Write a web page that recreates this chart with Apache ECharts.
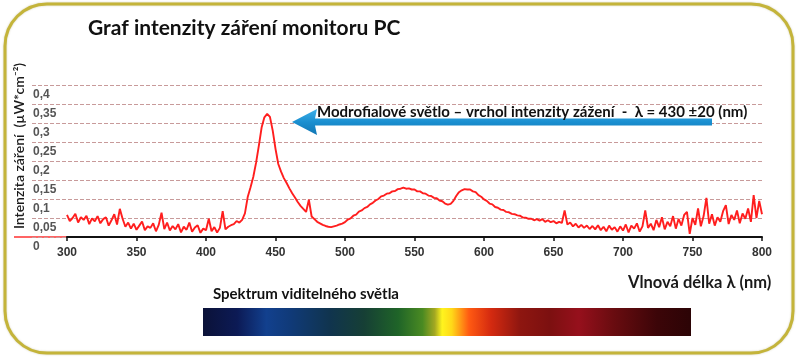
<!DOCTYPE html>
<html>
<head>
<meta charset="utf-8">
<script src="https://cdn.jsdelivr.net/npm/echarts@6/dist/echarts.min.js"></script>
<style>
html,body{margin:0;padding:0;background:#fff;}
#chart{width:800px;height:360px;}
</style>
</head>
<body>
<div id="chart"></div>
<script>
// ---- data ----
const titleText = 'Graf intenzity záření monitoru PC';
const yAxisTitle = 'Intenzita záření  (µW*cm⁻²)';
const xAxisTitle = 'Vlnová délka λ (nm)';
const annotationText = 'Modrofialové světlo – vrchol intenzity zážení  -  λ = 430 ±20 (nm)';
const spectrumTitle = 'Spektrum viditelného světla';
const wavelengthStart = 300;
const wavelengthStep = 2;
const intensity = [
  0.058, 0.042, 0.05, 0.061, 0.038, 0.052, 0.045, 0.056, 0.034, 0.049,
  0.041, 0.055, 0.036, 0.047, 0.052, 0.03, 0.044, 0.06, 0.033, 0.074,
  0.048, 0.027, 0.038, 0.022, 0.035, 0.019, 0.03, 0.041, 0.018, 0.028,
  0.024, 0.036, 0.015, 0.032, 0.064, 0.021, 0.038, 0.017, 0.029, 0.02,
  0.034, 0.012, 0.027, 0.019, 0.038, 0.014, 0.025, 0.031, 0.011, 0.022,
  0.018, 0.048, 0.015, 0.026, 0.012, 0.024, 0.068, 0.02, 0.027, 0.031,
  0.034, 0.042, 0.038, 0.045, 0.062, 0.105, 0.13, 0.158, 0.195, 0.24,
  0.288, 0.315, 0.324, 0.316, 0.28, 0.232, 0.192, 0.172, 0.155, 0.142,
  0.128, 0.115, 0.104, 0.092, 0.082, 0.074, 0.066, 0.098, 0.054, 0.047,
  0.04, 0.036, 0.032, 0.029, 0.027, 0.026, 0.028, 0.03, 0.033, 0.035,
  0.039, 0.046, 0.049, 0.056, 0.059, 0.067, 0.07, 0.076, 0.079, 0.086,
  0.09, 0.096, 0.1, 0.107, 0.109, 0.114, 0.115, 0.12, 0.121, 0.126,
  0.127, 0.13, 0.127, 0.128, 0.125, 0.125, 0.12, 0.12, 0.115, 0.114,
  0.109, 0.108, 0.103, 0.102, 0.096, 0.094, 0.088, 0.085, 0.087, 0.095,
  0.108, 0.118, 0.123, 0.126, 0.125, 0.125, 0.12, 0.118, 0.11, 0.106,
  0.099, 0.095, 0.088, 0.086, 0.079, 0.077, 0.072, 0.071, 0.066, 0.065,
  0.061, 0.06, 0.057, 0.056, 0.051, 0.051, 0.048, 0.048, 0.044, 0.047,
  0.043, 0.047, 0.04, 0.044, 0.039, 0.042, 0.036, 0.04, 0.037, 0.07,
  0.033, 0.038, 0.028, 0.035, 0.025, 0.032, 0.024, 0.03, 0.021, 0.029,
  0.02, 0.031, 0.018, 0.027, 0.015, 0.03, 0.019, 0.026, 0.014, 0.028,
  0.017, 0.033, 0.012, 0.03, 0.022, 0.036, 0.014, 0.028, 0.07, 0.024,
  0.035, 0.018, 0.045, 0.026, 0.052, 0.02, 0.04, 0.028, 0.055, 0.022,
  0.048, 0.03, 0.058, 0.066, 0.008, 0.05, 0.032, 0.075, 0.028, 0.055,
  0.103, 0.035, 0.06, 0.03, 0.052, 0.04, 0.068, 0.084, 0.034, 0.058,
  0.045, 0.07, 0.036, 0.062, 0.048, 0.075, 0.04, 0.11, 0.05, 0.095,
  0.06
];
const xMin = 300, xMax = 800, xInterval = 50;
const yMin = 0, yMax = 0.4, yInterval = 0.05;
const spectrumStops = [
  [0.00, '#0b1238'], [0.07, '#0c1a55'], [0.13, '#12408e'], [0.18, '#103a78'],
  [0.26, '#10344e'], [0.33, '#163f35'], [0.40, '#1f6428'], [0.45, '#4a8a22'],
  [0.475, '#a4a822'], [0.49, '#fff41e'], [0.51, '#ffd818'], [0.545, '#ff5a12'],
  [0.59, '#d42a10'], [0.65, '#8e1610'], [0.71, '#7c1010'], [0.77, '#96101c'],
  [0.84, '#6a0c10'], [0.93, '#3c0508'], [1.00, '#2c0406']
];

// ---- chart ----
const chart = echarts.init(document.getElementById('chart'), null, {renderer: 'canvas'});
const seriesData = intensity.map((v, i) => [wavelengthStart + i * wavelengthStep, v]);
const FONT = 'Lato';

chart.setOption({
  animation: false,
  backgroundColor: '#ffffff',
  title: {
    text: titleText, left: 83, top: 13,
    textStyle: {fontFamily: FONT, fontWeight: 'bold', fontSize: 21, color: '#111'}
  },
  grid: [
    {left: 67, right: 38, top: 85, bottom: 123},
    {left: 32, right: 38, top: 85, bottom: 123}
  ],
  xAxis: [
    {
      type: 'value', gridIndex: 0, min: xMin, max: xMax, interval: xInterval,
      axisLine: {show: true, onZero: false, lineStyle: {color: '#111', width: 2}},
      axisTick: {show: true, length: 4, lineStyle: {color: '#111', width: 1.5}},
      axisLabel: {margin: 10, color: '#333', fontSize: 12, fontWeight: 'bold', fontFamily: 'Liberation Sans'},
      splitLine: {show: false}
    },
    {type: 'value', gridIndex: 1, min: 0, max: 1, show: false}
  ],
  yAxis: [
    {
      type: 'value', gridIndex: 0, min: yMin, max: yMax, interval: yInterval,
      axisLine: {show: false}, axisTick: {show: false},
      splitLine: {show: false},
      axisLabel: {
        align: 'left', margin: 34, verticalAlign: 'top', padding: [4, 0, 0, 0],
        color: '#555', fontSize: 12, fontWeight: 'bold', fontFamily: 'Liberation Sans',
        formatter: v => String(+v.toFixed(2)).replace('.', ',')
      }
    },
    {
      type: 'value', gridIndex: 1, min: yMin, max: yMax, interval: yInterval,
      axisLine: {show: false}, axisTick: {show: false}, axisLabel: {show: false},
      splitLine: {show: true, lineStyle: {color: '#c89a9a', type: [4, 2], width: 1}}
    }
  ],
  series: [{
    type: 'line', xAxisIndex: 0, yAxisIndex: 0,
    data: seriesData, showSymbol: false, symbol: 'none',
    lineStyle: {color: '#ff1e1e', width: 1.9}, z: 5
  }],
  graphic: [
    {
      type: 'rect', z: -1, silent: true,
      shape: {x: 5, y: 4, width: 788, height: 349, r: 42},
      style: {fill: 'rgba(0,0,0,0)', stroke: '#c4b43a', lineWidth: 3,
              shadowColor: 'rgba(120,110,20,0.35)', shadowBlur: 2}
    },
    {
      type: 'line', silent: true,
      shape: {x1: 14, y1: 237, x2: 67, y2: 237},
      style: {stroke: '#ff3030', lineWidth: 1.5}
    },
    {
      type: 'text', silent: true, x: 19, y: 146, rotation: Math.PI / 2,
      style: {text: yAxisTitle, font: '600 14px Lato', fill: '#1a1a1a', align: 'center', verticalAlign: 'middle'}
    },
    {
      type: 'text', silent: true, x: 628, y: 283,
      style: {text: xAxisTitle, font: 'bold 16.5px Lato', fill: '#1a1a1a', align: 'left', verticalAlign: 'middle'}
    },
    {
      type: 'polygon', silent: true, z: 10,
      shape: {points: [[292, 122], [317, 109], [315, 118.5], [712, 118.5], [712, 125.5], [315, 125.5], [317, 135]]},
      style: {fill: new echarts.graphic.LinearGradient(0, 0, 0, 1, [
        {offset: 0, color: '#3fb0e8'}, {offset: 0.5, color: '#1a8fd0'}, {offset: 1, color: '#1276b4'}])}
    },
    {
      type: 'text', silent: true, z: 11, x: 317, y: 112,
      style: {text: annotationText, font: 'bold 15px Lato', fill: '#111', align: 'left', verticalAlign: 'middle'}
    },
    {
      type: 'text', silent: true, x: 213, y: 294,
      style: {text: spectrumTitle, font: 'bold 15px Lato', fill: '#111', align: 'left', verticalAlign: 'middle'}
    },
    {
      type: 'rect', silent: true,
      shape: {x: 203, y: 308, width: 488, height: 28},
      style: {fill: new echarts.graphic.LinearGradient(0, 0, 1, 0,
        spectrumStops.map(s => ({offset: s[0], color: s[1]})))}
    }
  ]
});
</script>
</body>
</html>
